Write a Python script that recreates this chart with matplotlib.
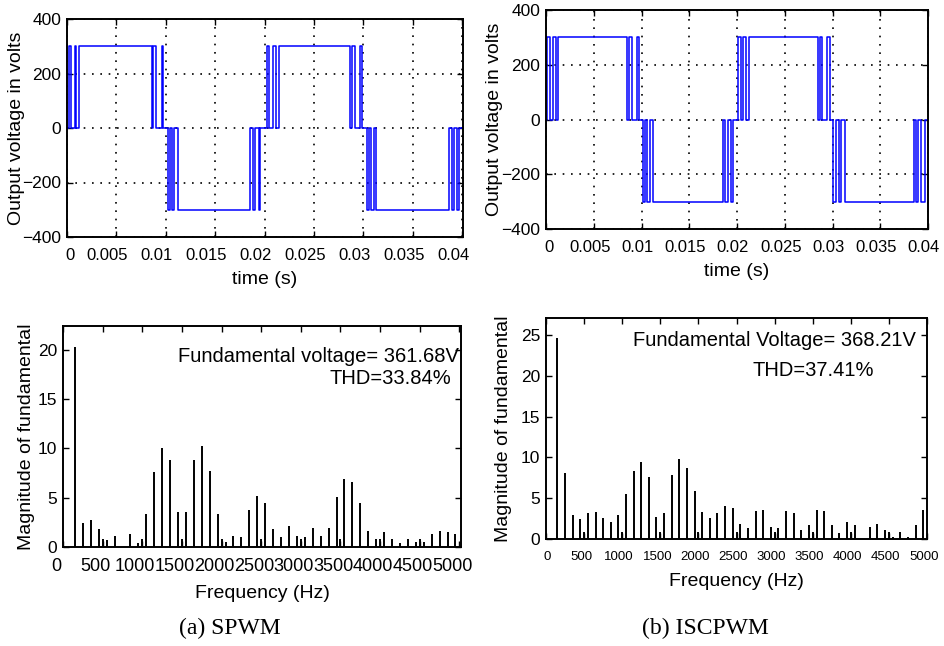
import numpy as np
import matplotlib
matplotlib.use("Agg")
import matplotlib.pyplot as plt
from matplotlib.transforms import ScaledTranslation

plt.rcParams['font.family'] = ['Liberation Sans', 'DejaVu Sans']

# ---------------- data ----------------
# Output voltage pulses (start s, end s, level V) - SPWM
spwm_start = [0.0002, 0.00078, 0.00125, 0.00875, 0.0096,
              0.01024, 0.01067, 0.01128, 0.01888, 0.01943,
              0.0203, 0.0209, 0.02142, 0.02885, 0.02966,
              0.03034, 0.03081, 0.03128, 0.03898, 0.03946]
spwm_end = [0.0004, 0.00095, 0.00858, 0.00899, 0.00976,
            0.01044, 0.01088, 0.01855, 0.01905, 0.01956,
            0.0205, 0.0212, 0.02868, 0.02912, 0.02986,
            0.03054, 0.03108, 0.03865, 0.03919, 0.03973]
spwm_level = [300] * 5 + [-300] * 5 + [300] * 5 + [-300] * 5

# ISCPWM
iscpwm_start = [0.00014, 0.00077, 0.00129, 0.00872, 0.00949,
                0.01012, 0.0106, 0.01123, 0.01877, 0.01933,
                0.02013, 0.02065, 0.02128, 0.02867, 0.02944,
                0.03007, 0.03063, 0.03126, 0.03872, 0.03931]
iscpwm_end = [0.00038, 0.00101, 0.00851, 0.0090, 0.00973,
              0.0104, 0.01088, 0.01856, 0.01905, 0.0196,
              0.02041, 0.02093, 0.02843, 0.02895, 0.02972,
              0.03035, 0.0309, 0.03851, 0.039, 0.03966]
iscpwm_level = [300] * 5 + [-300] * 5 + [300] * 5 + [-300] * 5

# Harmonic spectra (Hz, % of fundamental)
spwm_freq = [150, 250, 350, 450, 500, 550, 650, 850, 950, 1000,
             1050, 1150, 1250, 1350, 1450, 1500, 1550, 1650, 1750, 1850,
             1950, 2000, 2050, 2150, 2250, 2350, 2450, 2500, 2550, 2650,
             2750, 2850, 2950, 3000, 3050, 3150, 3250, 3350, 3450, 3500,
             3550, 3650, 3750, 3850, 3950, 4000, 4050, 4150, 4250, 4350,
             4450, 4500, 4550, 4650, 4750, 4850, 4950]
spwm_mag = [20.3, 2.4, 2.7, 1.8, 0.8, 0.7, 1.15, 1.35, 0.37, 0.84,
            3.37, 7.6, 10.05, 8.8, 3.5, 0.84, 3.5, 8.8, 10.2, 7.7,
            3.37, 0.84, 0.54, 1.15, 1.0, 3.8, 5.2, 0.8, 4.45, 1.82,
            1.0, 2.1, 1.15, 0.84, 1.0, 1.95, 1.15, 1.95, 5.06, 0.84,
            6.9, 6.6, 4.45, 1.65, 0.84, 0.84, 1.48, 0.84, 0.37, 0.84,
            0.54, 0.84, 0.54, 1.35, 1.65, 1.48, 1.35]

iscpwm_freq = [150, 250, 350, 450, 500, 550, 650, 750, 850, 950,
               1000, 1050, 1150, 1250, 1350, 1450, 1500, 1550, 1650, 1750,
               1850, 1950, 2000, 2050, 2150, 2250, 2350, 2450, 2500, 2550,
               2650, 2750, 2850, 2950, 3000, 3050, 3150, 3250, 3350, 3450,
               3500, 3550, 3650, 3750, 3850, 3950, 4000, 4050, 4250, 4350,
               4450, 4500, 4550, 4650, 4750, 4850, 4950]
iscpwm_mag = [24.7, 8.1, 3.0, 2.45, 0.86, 3.2, 3.36, 2.55, 2.05, 2.95,
              0.86, 5.5, 8.3, 9.45, 7.55, 2.75, 0.86, 3.2, 7.9, 9.85,
              8.7, 5.85, 0.86, 3.36, 2.6, 3.2, 4.1, 3.75, 0.86, 1.84,
              1.3, 3.44, 3.6, 1.47, 0.86, 1.3, 3.44, 3.23, 1.1, 1.68,
              0.86, 3.56, 3.44, 1.68, 0.74, 2.05, 0.86, 1.68, 1.47, 1.84,
              1.1, 0.86, 0.29, 0.86, 0.29, 1.68, 3.56]

time_ticks = [0, 0.005, 0.01, 0.015, 0.02, 0.025, 0.03, 0.035, 0.04]
time_ticklabels = ['0', '0.005', '0.01', '0.015', '0.02', '0.025', '0.03', '0.035', '0.04']
volt_ticks = [-400, -200, 0, 200, 400]
freq_ticks = list(range(0, 5001, 500))

spwm_text = ['Fundamental voltage= 361.68V', 'THD=33.84%']
iscpwm_text = ['Fundamental Voltage= 368.21V', 'THD=37.41%']
captions = ['(a) SPWM', '(b) ISCPWM']

# ---------------- figure ----------------
W, H = 944, 646
fig = plt.figure(figsize=(W / 100, H / 100), dpi=100)


def px_axes(x0, y0, x1, y1):
    return fig.add_axes([x0 / W, 1 - y1 / H, (x1 - x0) / W, (y1 - y0) / H])


def style(ax, xpad, xsize, ysize):
    for s in ax.spines.values():
        s.set_linewidth(1.4)
        s.set_color('black')
    ax.tick_params(direction='in', length=4, width=1.0, top=True, right=True,
                   colors='black', pad=4)
    ax.tick_params(axis='x', pad=xpad, labelsize=xsize)
    ax.tick_params(axis='y', labelsize=ysize)


def shift_xlabels(ax, dx_px, first_dx=0):
    for i, lbl in enumerate(ax.get_xticklabels()):
        d = first_dx if i == 0 else dx_px
        lbl.set_transform(lbl.get_transform() + ScaledTranslation(d / 100, 0, fig.dpi_scale_trans))


def wave(ax, starts, ends, levels, tmax):
    t = [0.0]
    v = [0.0]
    for s, e, l in zip(starts, ends, levels):
        t += [s, e]
        v += [l, 0.0]
    t.append(tmax)
    v.append(0.0)
    ax.plot(t, v, color='#0000ff', lw=1.1, drawstyle='steps-post')


# Top-left
ax1 = px_axes(67, 19, 463, 237)
wave(ax1, spwm_start, spwm_end, spwm_level, 0.0401)
ax1.set_xlim(0, 0.0401)
ax1.set_ylim(-400, 400)
ax1.set_xticks(time_ticks)
ax1.set_xticklabels(time_ticklabels)
ax1.set_yticks(volt_ticks)
ax1.grid(True, color='black', linestyle=(0, (1, 4)), linewidth=1.2)
style(ax1, 8, 12, 12.5)
ax1.set_xlabel('time (s)', fontsize=14, labelpad=6)
ax1.set_ylabel('Output voltage in volts', fontsize=14)
ax1.yaxis.set_label_coords(-0.106, 0.5)
shift_xlabels(ax1, -9, 3)

# Top-right
ax2 = px_axes(546, 10, 928, 229)
wave(ax2, iscpwm_start, iscpwm_end, iscpwm_level, 0.04)
ax2.set_xlim(0, 0.04)
ax2.set_ylim(-400, 400)
ax2.set_xticks(time_ticks)
ax2.set_xticklabels(time_ticklabels)
ax2.set_yticks(volt_ticks)
ax2.grid(True, color='black', linestyle=(0, (1, 4)), linewidth=1.2)
style(ax2, 8, 12, 12.5)
ax2.set_xlabel('time (s)', fontsize=14, labelpad=6)
ax2.set_ylabel('Output voltage in volts', fontsize=14)
ax2.yaxis.set_label_coords(-0.112, 0.5)
shift_xlabels(ax2, -4, 3)

# Bottom-left
ax3 = px_axes(63, 326, 461, 547)
ax3.vlines(spwm_freq, 0, spwm_mag, color='black', linewidth=1.4)
ax3.set_xlim(0, 5020)
ax3.set_ylim(0, 22.4)
ax3.set_xticks(freq_ticks)
ax3.set_yticks([0, 5, 10, 15, 20])
style(ax3, 8, 13, 12.5)
ax3.set_xlabel('Frequency (Hz)', fontsize=14, labelpad=7)
ax3.set_ylabel('Magnitude of fundamental', fontsize=14)
ax3.yaxis.set_label_coords(-0.07, 0.5)
ax3.text(4996, 19.3, spwm_text[0], ha='right', va='center', fontsize=14.5)
ax3.text(4900, 17.1, spwm_text[1], ha='right', va='center', fontsize=14.5)
shift_xlabels(ax3, -7, -7)

# Bottom-right
ax4 = px_axes(546, 318, 927, 539)
ax4.vlines(iscpwm_freq, 0, iscpwm_mag, color='black', linewidth=1.4)
ax4.set_xlim(0, 5000)
ax4.set_ylim(0, 27.1)
ax4.set_xticks(freq_ticks)
ax4.set_yticks([0, 5, 10, 15, 20, 25])
style(ax4, 9, 9.5, 12.5)
ax4.set_xlabel('Frequency (Hz)', fontsize=14, labelpad=7)
ax4.set_ylabel('Magnitude of fundamental', fontsize=14)
ax4.yaxis.set_label_coords(-0.089, 0.5)
ax4.text(4855, 24.3, iscpwm_text[0], ha='right', va='center', fontsize=14.5)
ax4.text(2704, 20.7, iscpwm_text[1], ha='left', va='center', fontsize=14.5)
shift_xlabels(ax4, -3, 1)

# Captions
fig.text(230 / W, 1 - 628 / H, captions[0], ha='center', va='center',
         fontsize=17, family=['Liberation Serif', 'DejaVu Serif'])
fig.text(705 / W, 1 - 628 / H, captions[1], ha='center', va='center',
         fontsize=17, family=['Liberation Serif', 'DejaVu Serif'])

fig.savefig('out.png', dpi=100, facecolor='white')
